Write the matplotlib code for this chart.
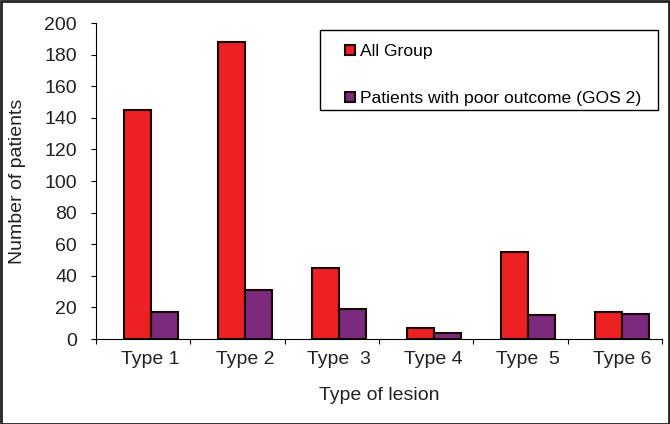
import numpy as np
import matplotlib.pyplot as plt

plt.rcParams['font.family'] = ['Liberation Sans', 'DejaVu Sans']

# data
categories = ["Type 1", "Type 2", "Type  3", "Type 4", "Type  5", "Type 6"]
all_group = [145, 188, 45, 7, 55, 17]
poor_outcome = [17, 31, 19, 4, 15, 16]

red = "#ED2024"
purple = "#7B2A7D"
edge = "#1A0505"

fig = plt.figure(figsize=(6.7, 4.24), dpi=100)
ax = fig.add_axes([96 / 670, 1 - 339 / 424, (662 - 96) / 670, (339 - 23) / 424])

x = np.arange(len(categories)) + 0.58
w = 0.285
ax.bar(x - w / 2, all_group, w, color=red, edgecolor=edge, linewidth=1.5,
       label="All Group", zorder=3)
ax.bar(x + w / 2, poor_outcome, w, color=purple, edgecolor=edge, linewidth=1.5,
       label="Patients with poor outcome (GOS 2)", zorder=3)

ax.set_xlim(0, 6)
ax.set_ylim(0, 200)
ax.set_yticks(range(0, 201, 20))
ax.tick_params(axis='y', labelsize=14, length=3.6, direction='out', pad=10,
               labelcolor="#222222")

# group boundaries as tick marks, labels under the bar pairs
ax.set_xticks(range(0, 7))
ax.set_xticklabels([])
ax.set_xticks(x, minor=True)
ax.set_xticklabels(categories, minor=True, fontsize=14, color="#222222")
ax.tick_params(axis='x', which='major', length=3.6, direction='out')
ax.tick_params(axis='x', which='minor', length=0, pad=9)

for s in ["top", "right"]:
    ax.spines[s].set_visible(False)

ax.set_xlabel("Type of lesion", fontsize=14, labelpad=13, color="#222222")
ax.set_ylabel("Number of patients", fontsize=14, labelpad=13, color="#222222")

# legend box drawn separately so its padding matches the original
fig.patches.append(plt.Rectangle((320 / 670, 1 - 110 / 424), 338 / 670, 80 / 424,
                                 transform=fig.transFigure, fill=False,
                                 edgecolor="black", linewidth=1))
fig.legend(loc="upper left", bbox_to_anchor=(345 / 670, 1 - 44 / 424),
           frameon=False, fontsize=12.6, handlelength=0.55, handleheight=0.55,
           labelspacing=1.85, borderpad=0, handletextpad=0.3, borderaxespad=0)

# outer border of the image
fig.patches.append(plt.Rectangle((0.001, 0.001), 0.998, 0.997, transform=fig.transFigure,
                                 fill=False, edgecolor="#222222", linewidth=2))

plt.savefig("out.png", dpi=100)
